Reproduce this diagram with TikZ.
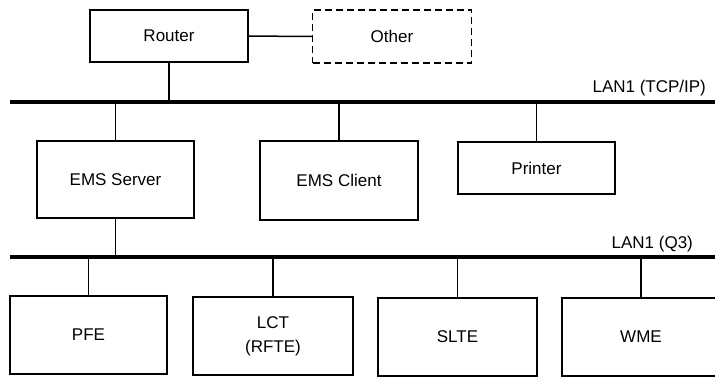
\documentclass[tikz,border=0pt]{standalone}
\usepackage{fontspec}
\setmainfont{Liberation Sans}
\begin{document}
\begin{tikzpicture}[x=1pt, y=-1pt, line width=1.5pt,
  font=\fontsize{17}{24}\selectfont,
  box/.style={draw, minimum width=158pt, inner sep=0pt, align=center},
  bus/.style={line width=3.5pt}]
\useasboundingbox (0,0) rectangle (715,376);
% upper level
\node [box, minimum height=52pt] (router) at (169,36) {Router};
\node [box, dash pattern=on 7pt off 4pt, minimum width=159pt, minimum height=53pt] (other) at (392,36.5) {Other};
\draw (router) -- (other);
\coordinate (tcpw) at (10,102);
\coordinate (tcpe) at (715,102);
\draw [bus] (tcpw) -- (tcpe);
\node [anchor=base east] (tcplabel) at (710,92) {LAN1 (TCP/IP)};
\draw (router.south) -- (router.south |- tcpw);
% management level
\node [box, minimum width=157pt, minimum height=77pt] (server) at (115.5,179.5) {EMS Server};
\node [box, minimum height=79pt] (client) at (339,180.5) {EMS Client};
\node [box, minimum width=157pt, minimum height=52pt] (printer) at (536.5,168) {Printer};
\foreach \n in {server, client, printer}{
	\draw (\n.north) -- (\n.north |- tcpw);}
\coordinate (q3w) at (10,257);
\coordinate (q3e) at (715,257);
\draw [bus] (q3w) -- (q3e);
\node [anchor=base east] (q3label) at (697,248) {LAN1 (Q3)};
\draw (server.south) -- (server.south |- q3w);
% network elements
\node [box, minimum width=157pt, minimum height=78pt] (pfe) at (88.5,335) {PFE};
\node [box, minimum width=160pt, minimum height=78pt] (lct) at (273,336) {LCT\\(RFTE)};
\node [box, minimum width=159pt, minimum height=78pt] (slte) at (457.5,337) {SLTE};
\node [box, minimum height=78pt] (wme) at (641,337) {WME};
\foreach \n in {pfe, lct, slte, wme}{
	\draw (\n.north) -- (\n.north |- q3w);}

\end{tikzpicture}
\end{document}
